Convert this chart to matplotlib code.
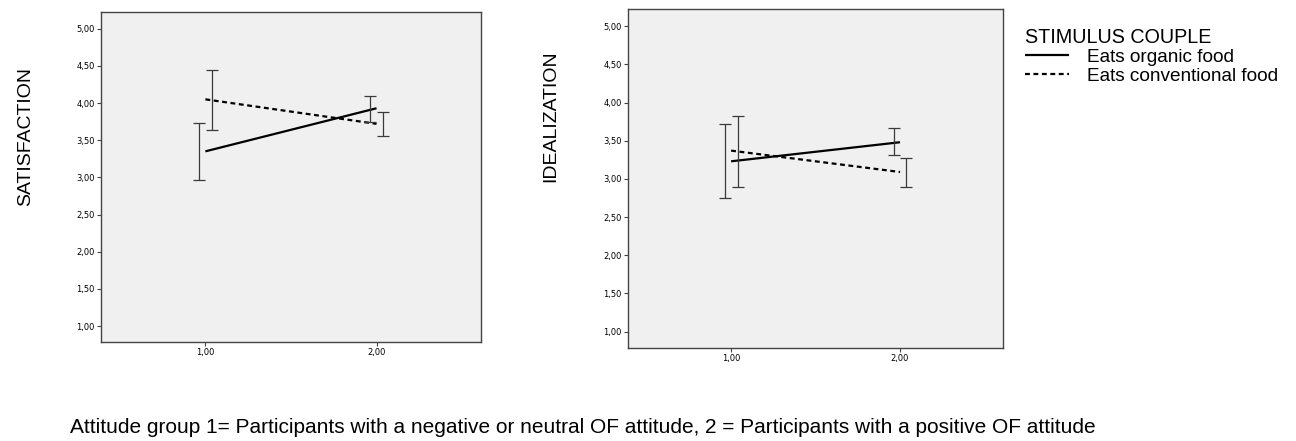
import matplotlib.pyplot as plt
import numpy as np

plt.rcParams['font.family'] = ['Liberation Sans', 'DejaVu Sans']

# data
groups = [1, 2]
x_tick_labels = ['1,00', '2,00']
y_ticks = [1.0, 1.5, 2.0, 2.5, 3.0, 3.5, 4.0, 4.5, 5.0]
y_tick_labels = ['1,00', '1,50', '2,00', '2,50', '3,00', '3,50', '4,00', '4,50', '5,00']

sat_organic = [3.35, 3.93]
sat_organic_lo = [2.97, 3.74]
sat_organic_hi = [3.73, 4.10]
sat_conv = [4.05, 3.72]
sat_conv_lo = [3.64, 3.56]
sat_conv_hi = [4.45, 3.88]

ide_organic = [3.23, 3.48]
ide_organic_lo = [2.75, 3.31]
ide_organic_hi = [3.72, 3.67]
ide_conv = [3.37, 3.09]
ide_conv_lo = [2.90, 2.90]
ide_conv_hi = [3.83, 3.27]

legend_title = 'STIMULUS COUPLE'
label_organic = 'Eats organic food'
label_conv = 'Eats conventional food'
footnote = ('Attitude group 1= Participants with a negative or neutral OF attitude, '
            '2 = Participants with a positive OF attitude')

err_offset = 0.038
panel_bg = '#f0f0f0'
spine_col = '#444444'
err_col = '#3a3a3a'


def draw_panel(ax, org, org_lo, org_hi, conv, conv_lo, conv_hi, ylabel, label_pos):
    x = np.array(groups, dtype=float)
    org = np.array(org)
    conv = np.array(conv)
    ax.set_facecolor(panel_bg)
    l1, = ax.plot(x, org, color='black', lw=1.6, solid_capstyle='butt', label=label_organic)
    l2, = ax.plot(x, conv, color='black', lw=1.6, linestyle=(0, (2.2, 1.6)), label=label_conv)
    ax.errorbar(x - err_offset, org, yerr=[org - np.array(org_lo), np.array(org_hi) - org],
                fmt='none', ecolor=err_col, elinewidth=0.9, capsize=4.3, capthick=0.9)
    ax.errorbar(x + err_offset, conv, yerr=[conv - np.array(conv_lo), np.array(conv_hi) - conv],
                fmt='none', ecolor=err_col, elinewidth=0.9, capsize=4.3, capthick=0.9)
    ax.set_xlim(0.39, 2.61)
    ax.set_ylim(0.785, 5.225)
    ax.set_xticks(groups)
    ax.set_xticklabels(x_tick_labels, family=['Liberation Sans Narrow', 'DejaVu Sans'], fontsize=6)
    ax.set_yticks(y_ticks)
    ax.set_yticklabels(y_tick_labels, family=['Liberation Sans Narrow', 'DejaVu Sans'], fontsize=6)
    ax.tick_params(direction='out', length=3, width=0.8, color=spine_col, pad=1.5)
    for s in ax.spines.values():
        s.set_color(spine_col)
        s.set_linewidth(1.0)
    ax.set_ylabel(ylabel, fontsize=14)
    ax.yaxis.set_label_coords(label_pos[0], label_pos[1])
    return l1, l2


fig = plt.figure(figsize=(12.96, 4.41), dpi=100)
ax1 = fig.add_axes([0.0779, 0.2245, 0.2932, 0.7483])
ax2 = fig.add_axes([0.4846, 0.2109, 0.2894, 0.7687])

h1, h2 = draw_panel(ax1, sat_organic, sat_organic_lo, sat_organic_hi,
                    sat_conv, sat_conv_lo, sat_conv_hi, 'SATISFACTION', (-0.177, 0.624))
draw_panel(ax2, ide_organic, ide_organic_lo, ide_organic_hi,
           ide_conv, ide_conv_lo, ide_conv_hi, 'IDEALIZATION', (-0.184, 0.684))

leg = fig.legend([h1, h2], [label_organic, label_conv], title=legend_title,
                 loc='upper left', bbox_to_anchor=(1025 / 1296, 1 - 28 / 441),
                 frameon=False, fontsize=13.7, title_fontsize=14.2,
                 labelspacing=0.08, handlelength=2.3, handletextpad=0.95,
                 borderpad=0.0, borderaxespad=0.0, alignment='left')

fig.text(70 / 1296, 8 / 441, footnote, fontsize=15, va='baseline', ha='left')

plt.savefig('out.png', dpi=100, facecolor='white')
